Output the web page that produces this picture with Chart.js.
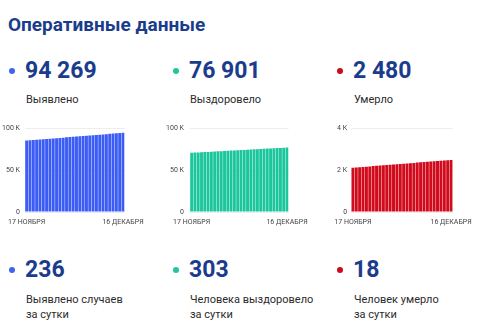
<!DOCTYPE html>
<html lang="ru">
<head>
<meta charset="utf-8">
<script src="https://cdn.jsdelivr.net/npm/chart.js@4.4.1/dist/chart.umd.min.js"></script>
<style>
  html, body { margin: 0; padding: 0; background: #fff; }
  body { width: 485px; height: 329px; position: relative; overflow: hidden; font-family: Roboto, "Noto Sans", sans-serif; }
  .t { position: absolute; white-space: nowrap; }
  .title { left: 8px; top: 15px; font-size: 19px; font-weight: 700; color: #1b3c8c; line-height: 19px; }
  .num { font-size: 23px; font-weight: 700; color: #1b3c8c; line-height: 23px; }
  .lbl { font-size: 11px; color: #2b2b2b; line-height: 15px; }
  .dot { position: absolute; width: 6px; height: 6px; border-radius: 50%; }
  canvas { position: absolute; }
</style>
</head>
<body>
<div class="t title">Оперативные данные</div>
<script>
// Dates on the x axis: 17 November – 16 December
const days = [
  '17 НОЯБРЯ','18 НОЯБРЯ','19 НОЯБРЯ','20 НОЯБРЯ','21 НОЯБРЯ','22 НОЯБРЯ','23 НОЯБРЯ',
  '24 НОЯБРЯ','25 НОЯБРЯ','26 НОЯБРЯ','27 НОЯБРЯ','28 НОЯБРЯ','29 НОЯБРЯ','30 НОЯБРЯ',
  '1 ДЕКАБРЯ','2 ДЕКАБРЯ','3 ДЕКАБРЯ','4 ДЕКАБРЯ','5 ДЕКАБРЯ','6 ДЕКАБРЯ','7 ДЕКАБРЯ',
  '8 ДЕКАБРЯ','9 ДЕКАБРЯ','10 ДЕКАБРЯ','11 ДЕКАБРЯ','12 ДЕКАБРЯ','13 ДЕКАБРЯ','14 ДЕКАБРЯ',
  '15 ДЕКАБРЯ','16 ДЕКАБРЯ'
];

// Cumulative totals per day
const detected = [
  85010, 85330, 85660, 85970, 86290, 86620, 86930, 87250, 87580, 87890,
  88210, 88540, 88850, 89170, 89500, 89810, 90130, 90460, 90770, 91090,
  91420, 91730, 92050, 92380, 92690, 93010, 93340, 93690, 94033, 94269
];
const recovered = [
  70650, 70870, 71090, 71300, 71520, 71740, 71950, 72170, 72390, 72600,
  72820, 73030, 73250, 73470, 73680, 73900, 74110, 74330, 74550, 74760,
  74980, 75190, 75410, 75630, 75840, 76060, 76270, 76420, 76598, 76901
];
const deaths = [
  2108, 2121, 2134, 2147, 2159, 2172, 2185, 2198, 2211, 2224,
  2236, 2249, 2262, 2275, 2288, 2301, 2313, 2326, 2339, 2352,
  2365, 2378, 2390, 2403, 2416, 2429, 2442, 2452, 2462, 2480
];

// Headline figures
const totals = [94269, 76901, 2480];
const totalLabels = ['Выявлено', 'Выздоровело', 'Умерло'];
const daily = [236, 303, 18];
const dailyLabels = [
  ['Выявлено случаев', 'за сутки'],
  ['Человека выздоровело', 'за сутки'],
  ['Человек умерло', 'за сутки']
];

// Y axis ticks
const yMax = [100000, 100000, 4000];
const yStep = [50000, 50000, 2000];
const yTickLabels = [['0', '50 K', '100 K'], ['0', '50 K', '100 K'], ['0', '2 K', '4 K']];

const colors = ['#3c5cf6', '#1bc69c', '#d10a1c'];
const dotColors = ['#3f63ea', '#22c59e', '#cc0a1a'];
const series = [detected, recovered, deaths];

const colX = [0, 164, 328];
const yAxisWidth = [25, 26, 18.5];
const yTickPad = [5, 6, 4];

function fmt(n) {
  return String(n).replace(/\B(?=(\d{3})+(?!\d))/g, '\u00a0');
}

function addText(cls, x, y, html) {
  const d = document.createElement('div');
  d.className = 't ' + cls;
  d.style.left = x + 'px';
  d.style.top = y + 'px';
  d.innerHTML = html;
  document.body.appendChild(d);
}
function addDot(cx, cy, color) {
  const d = document.createElement('div');
  d.className = 'dot';
  d.style.left = (cx - 3) + 'px';
  d.style.top = (cy - 3) + 'px';
  d.style.background = color;
  document.body.appendChild(d);
}

for (let i = 0; i < 3; i++) {
  const x0 = colX[i];
  addDot(x0 + 12, 71, dotColors[i]);
  addText('num', x0 + 25, 59, fmt(totals[i]));
  addText('lbl', x0 + 26, 92, totalLabels[i]);

  addDot(x0 + 12, 269.5, dotColors[i]);
  addText('num', x0 + 25, 258, fmt(daily[i]));
  addText('lbl', x0 + 26, 292, dailyLabels[i].join('<br>'));

  const cv = document.createElement('canvas');
  cv.width = 150; cv.height = 112;
  cv.style.left = x0 + 'px';
  cv.style.top = '118px';
  document.body.appendChild(cv);

  const labels = yTickLabels[i];
  new Chart(cv, {
    type: 'bar',
    data: {
      labels: days,
      datasets: [{
        data: series[i],
        backgroundColor: colors[i],
        barPercentage: 0.88,
        categoryPercentage: 1.0
      }]
    },
    options: {
      responsive: false,
      animation: false,
      devicePixelRatio: 1,
      layout: { padding: { left: 0, right: 24, top: 10, bottom: 4 } },
      plugins: { legend: { display: false }, tooltip: { enabled: false } },
      scales: {
        x: {
          grid: { display: false, drawTicks: false },
          border: { display: false },
          ticks: {
            autoSkip: false,
            maxRotation: 0,
            padding: 6,
            color: '#444',
            font: { family: 'Roboto', size: 7 },
            callback: (v, idx) => (idx === 0 || idx === days.length - 1) ? days[idx] : ''
          },
          afterFit: s => { s.height = 14; }
        },
        y: {
          min: 0,
          max: yMax[i],
          grid: { color: '#ededed', drawTicks: false },
          border: { display: false },
          ticks: {
            stepSize: yStep[i],
            padding: yTickPad[i],
            color: '#444',
            font: { family: 'Roboto', size: 7 },
            callback: (v, idx) => labels[idx]
          },
          afterFit: s => { s.width = yAxisWidth[i]; }
        }
      }
    }
  });
}
</script>
</body>
</html>
